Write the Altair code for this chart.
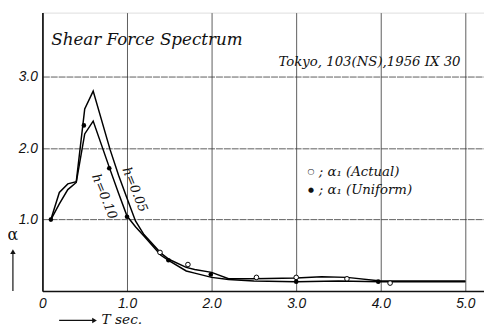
import altair as alt
import pandas as pd

# ---- data ----
T_h05 = [0.1, 0.2, 0.3, 0.4, 0.5, 0.6, 0.8, 0.9, 1.0, 1.1, 1.2, 1.4, 1.5, 1.7, 1.8, 2.0, 2.2, 2.5, 3.0, 3.3, 3.6, 4.0, 4.5, 5.0]
A_h05 = [1.0, 1.38, 1.5, 1.53, 2.55, 2.8, 1.98, 1.62, 1.3, 0.98, 0.79, 0.53, 0.44, 0.33, 0.30, 0.26, 0.17, 0.17, 0.18, 0.20, 0.19, 0.14, 0.14, 0.14]
T_h10 = [0.1, 0.2, 0.3, 0.4, 0.5, 0.6, 0.8, 0.9, 1.0, 1.1, 1.2, 1.4, 1.5, 1.7, 1.8, 2.0, 2.2, 2.5, 3.0, 3.5, 4.0, 4.5, 5.0]
A_h10 = [1.0, 1.22, 1.42, 1.52, 2.2, 2.38, 1.7, 1.37, 1.05, 0.9, 0.77, 0.5, 0.42, 0.28, 0.25, 0.19, 0.16, 0.14, 0.13, 0.14, 0.13, 0.13, 0.13]

T_actual = [1.39, 1.72, 2.53, 3.0, 3.6, 4.11]
A_actual = [0.54, 0.37, 0.19, 0.19, 0.17, 0.11]
T_uniform = [0.1, 0.49, 0.79, 1.0, 1.49, 1.99, 3.0, 3.97]
A_uniform = [1.0, 2.32, 1.72, 1.04, 0.43, 0.23, 0.13, 0.13]

x_ticks = [0, 1, 2, 3, 4, 5]
y_ticks = [1, 2, 3]

lines = pd.concat([
    pd.DataFrame({"T": T_h05, "a": A_h05, "h": "0.05"}),
    pd.DataFrame({"T": T_h10, "a": A_h10, "h": "0.10"}),
])
actual = pd.DataFrame({"T": T_actual, "a": A_actual})
uniform = pd.DataFrame({"T": T_uniform, "a": A_uniform})

X_DOM = [0, 5.22]
Y_DOM = [0, 3.9]

lab_font = "Liberation Sans"
ser_font = "DejaVu Serif"

xenc = alt.X("T:Q", scale=alt.Scale(domain=X_DOM, nice=False, zero=False),
             axis=alt.Axis(values=x_ticks, title=None, grid=True, ticks=False,
                           labelExpr="datum.value == 0 ? '0' : format(datum.value, '.1f')",
                           labelFont=lab_font, labelFontStyle="italic", labelFontSize=14,
                           labelColor="#111", labelPadding=6, domainColor="#111", domainWidth=1.6,
                           gridColor="#333", gridWidth=0.8, labelFlush=False))
yenc = alt.Y("a:Q", scale=alt.Scale(domain=Y_DOM, nice=False, zero=False),
             axis=alt.Axis(values=y_ticks, title=None, grid=True, ticks=False, format=".1f",
                           labelFont=lab_font, labelFontStyle="italic", labelFontSize=14,
                           labelColor="#111", labelPadding=5, domainColor="#111", domainWidth=1.6,
                           gridColor="#333", gridWidth=0.8, gridDash=[7, 1]))

curve = alt.Chart(lines).mark_line(color="black", strokeWidth=1.5).encode(
    x=xenc, y=yenc, detail="h:N")

pts_u = alt.Chart(uniform).mark_circle(color="black", size=22, opacity=1).encode(x="T:Q", y="a:Q")
pts_a = alt.Chart(actual).mark_point(shape="circle", filled=False, stroke="black",
                                     fill="white", fillOpacity=1, size=22, strokeWidth=1,
                                     opacity=1).encode(x="T:Q", y="a:Q")

one = pd.DataFrame({"k": [0]})

def txt(text, px, py, size, font=ser_font, angle=0, align="left", style="italic"):
    return alt.Chart(one).mark_text(text=text, font=font, fontSize=size, fontStyle=style,
                                    align=align, baseline="middle", angle=angle,
                                    color="#111").encode(x=alt.value(px), y=alt.value(py))

texts = [
    txt("Shear Force Spectrum", 9, 28, 17),
    txt("Tokyo, 103(NS),1956 IX 30", 240, 50, 13.5),
    txt("○", 273, 162, 8, style="normal", align="center"),
    txt("●", 273, 180, 7, style="normal", align="center"),
    txt("; α₁ (Actual)", 281, 162, 13.5),
    txt("; α₁ (Uniform)", 281, 180, 13.5),
    txt("h=0.05", 94, 180, 13, angle=68, align="center"),
    txt("h=0.10", 63, 187, 13, angle=68, align="center"),
    txt("α", -30, 226, 16, font="DejaVu Serif", style="normal", align="center"),
    txt("T sec.", 60, 313, 14),
]

arrow_y = alt.Chart(one).mark_rule(color="#111", strokeWidth=1.2).encode(
    x=alt.value(-30), y=alt.value(283), y2=alt.value(244))
head_y = alt.Chart(one).mark_point(shape="triangle-up", filled=True, color="#111",
                                   size=30, opacity=1).encode(x=alt.value(-30), y=alt.value(243))
arrow_x = alt.Chart(one).mark_rule(color="#111", strokeWidth=1.2).encode(
    x=alt.value(17), x2=alt.value(52), y=alt.value(313))
head_x = alt.Chart(one).mark_point(shape="triangle-right", filled=True, color="#111",
                                   size=30, opacity=1).encode(x=alt.value(53), y=alt.value(313))

chart = alt.layer(curve, pts_a, pts_u, *texts, arrow_y, head_y, arrow_x, head_x).properties(
    width=449, height=283,
    autosize=alt.AutoSizeParams(type="none"),
    padding={"left": 35, "top": 2, "right": 0, "bottom": 36},
).configure_view(stroke=None).configure(background="white")

chart.save("out.html", embed_options={"renderer": "svg", "actions": False})
